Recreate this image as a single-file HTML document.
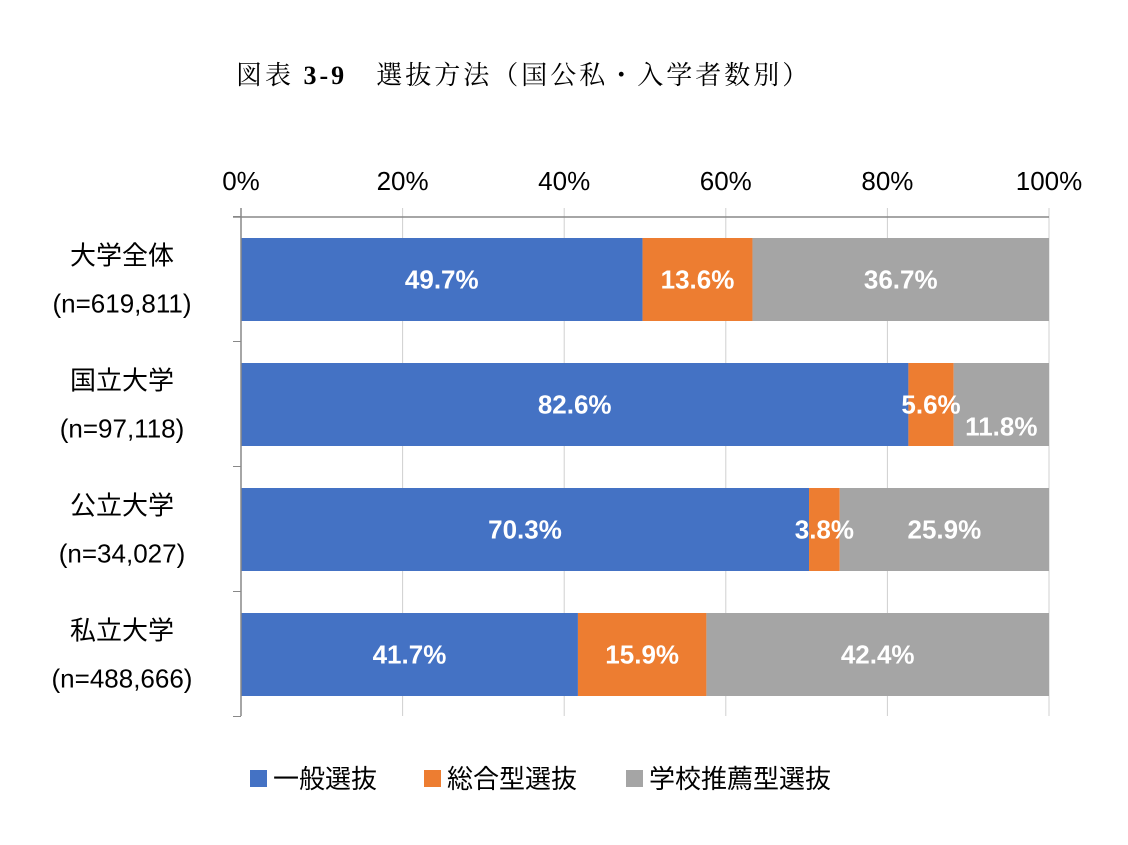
<!DOCTYPE html>
<html><head><meta charset="utf-8"><style>
body{margin:0;background:#fff;}
svg{display:block;font-family:"Liberation Sans","DejaVu Sans","Noto Sans CJK JP",sans-serif;}
</style></head><body>
<svg id="c" width="1128" height="845" viewBox="0 0 1128 845">
<text x="236" y="84" font-family="'Liberation Serif','Noto Serif CJK SC',serif" font-size="26" letter-spacing="3" fill="#000">図表 <tspan font-weight="bold">3-9</tspan>　選抜方法（国公私・入学者数別）</text>
<g id="grid"></g><g id="bars"></g><g id="labels"></g><g id="axes"></g>
<g id="legend"></g>
</svg>
<script>
const categories=["大学全体","国立大学","公立大学","私立大学"];
const counts=["(n=619,811)","(n=97,118)","(n=34,027)","(n=488,666)"];
const seriesNames=["一般選抜","総合型選抜","学校推薦型選抜"];
const general=[49.7,82.6,70.3,41.7];
const comprehensive=[13.6,5.6,3.8,15.9];
const recommendation=[36.7,11.8,25.9,42.4];
const ticks=[0,20,40,60,80,100];
const colors=["#4472C4","#ED7D31","#A5A5A5"];
const NS="http://www.w3.org/2000/svg";
const x0=241,x1=1049,plotTop=216,band=125,barH=83;
const xs=v=>x0+(x1-x0)*v/100;
const yb=i=>plotTop+band*i;
function mk(tag,attrs,parent,txt){const e=document.createElementNS(NS,tag);for(const k in attrs)e.setAttribute(k,attrs[k]);if(txt!==undefined)e.textContent=txt;document.getElementById(parent).appendChild(e);return e;}
ticks.forEach(t=>{
 const g=mk('line',{x1:xs(t),x2:xs(t),y1:208,y2:716,stroke:t===0?'#888':'#d0d0d0','stroke-width':1},'grid');
 
 
 const l=mk('text',{x:xs(t),y:190,'text-anchor':'middle','font-size':26,fill:'#000'},'axes',t+'%');
 
 
});
const ax=mk('line',{x1:233,x2:x1,y1:217,y2:217,stroke:'#888','stroke-width':1.5},'axes');


const ay=mk('line',{x1:241,x2:241,y1:208,y2:716,stroke:'#888','stroke-width':1.5},'axes');


for(let i=0;i<=categories.length;i++){
 const t=mk('line',{x1:233,x2:241,y1:yb(i)+0.5,y2:yb(i)+0.5,stroke:'#888'},'axes');
 
 
}
const series=[general,comprehensive,recommendation];
categories.forEach((c,i)=>{
 const yc=yb(i)+band/2+1;
 const a=mk('text',{x:122,y:yc-15,'text-anchor':'middle','font-size':26,fill:'#000'},'axes',c);
 
 
 const b=mk('text',{x:122,y:yc+33,'text-anchor':'middle','font-size':26,fill:'#000'},'axes',counts[i]);
 
 
 let cum=0;
 series.forEach((s,k)=>{
  const v=s[i];
  const r=mk('rect',{x:xs(cum),y:yb(i)+22,width:xs(cum+v)-xs(cum),height:barH,fill:colors[k]},'bars');
  
  
  let cx=(xs(cum)+xs(cum+v))/2, dy=0;
  if(k===2 && i===1){dy=22;}
  const tl=mk('text',{x:cx,y:yb(i)+22+barH/2+9+dy,'text-anchor':'middle','font-size':26,'font-weight':'bold',fill:'#fff'},'labels',v.toFixed(1)+'%');
  
  
  cum+=v;
 });
});
const lx=[250,424,626];
seriesNames.forEach((n,k)=>{
 const r=mk('rect',{x:lx[k],y:770,width:17,height:17,fill:colors[k]},'legend');
 
 
 const t=mk('text',{x:lx[k]+23,y:788,'font-size':26,fill:'#000'},'legend',n);
 
 
});
</script>
</body></html>
